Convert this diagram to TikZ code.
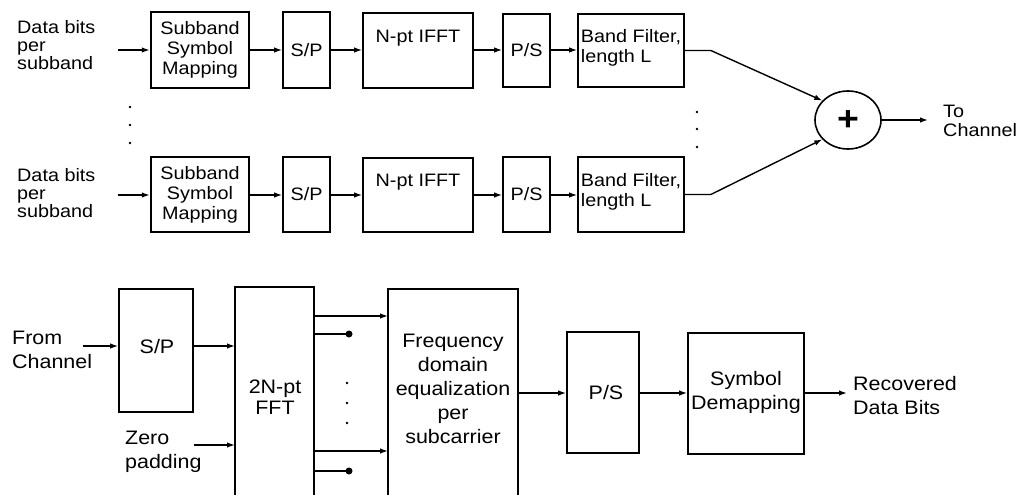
\documentclass[tikz,border=0pt]{standalone}
\usepackage{fontspec}
\setmainfont{Liberation Sans}[FakeStretch=1.1]
\usetikzlibrary{arrows.meta,shapes.geometric,calc}
\begin{document}
\begin{tikzpicture}[x=1pt,y=-1pt,
  box/.style={draw,line width=1.7pt,inner sep=0pt,align=center},
  tfont/.style={font=\fontsize{18}{20}\selectfont},
  bfont/.style={font=\fontsize{19.5}{24}\selectfont},
  lbl/.style={inner sep=0pt,align=left,anchor=west},
  txt/.style={inner sep=0pt,align=center},
  arr/.style={line width=1.4pt,-{Latex[length=8pt,width=5.5pt]}},
  ln/.style={line width=1.4pt},
  dotend/.style={circle,fill,inner sep=0pt,minimum size=7pt}]
\useasboundingbox (0,0) rectangle (1016,495);

% ---------- transmitter, branch 1 ----------
\node[lbl,tfont,font=\fontsize{18}{18}\selectfont] (in1) at (17,45) {Data bits\\per\\subband};
\node[box,tfont,line width=2.4pt,minimum width=98pt,minimum height=76pt] (ssm1) at (200,50) {Subband\\Symbol\\Mapping};
\node[box,tfont,minimum width=47pt,minimum height=76pt] (sp1) at (306.5,50) {S/P};
\node[box,minimum width=110pt,minimum height=75pt] (ifft1) at (418,50.5) {};
\node[txt,tfont] (ifftt1) at (418,38) {N-pt IFFT};
\node[box,tfont,minimum width=47pt,minimum height=73pt] (ps1) at (526.5,50.5) {P/S};
\node[box,minimum width=106pt,minimum height=73pt] (bf1) at (631,50.5) {};
\node[txt,tfont,align=left] (bft1) at (631,48) {Band Filter,\\length L};
\coordinate (a1) at (118,50);
\draw[arr] (a1) -- (ssm1.west |- a1);
\draw[arr] (ssm1.east |- a1) -- (sp1.west |- a1);
\draw[arr] (sp1.east |- a1) -- (ifft1.west |- a1);
\draw[arr] (ifft1.east |- a1) -- (ps1.west |- a1);
\draw[arr] (ps1.east |- a1) -- (bf1.west |- a1);

% ---------- transmitter, branch 2 ----------
\node[lbl,tfont,font=\fontsize{18}{18}\selectfont] (in2) at (17,193) {Data bits\\per\\subband};
\node[box,tfont,line width=2.4pt,minimum width=98pt,minimum height=75pt] (ssm2) at (200,194.5) {Subband\\Symbol\\Mapping};
\node[box,tfont,minimum width=47pt,minimum height=75pt] (sp2) at (306.5,194.5) {S/P};
\node[box,minimum width=110pt,minimum height=74pt] (ifft2) at (418,195) {};
\node[txt,tfont] (ifftt2) at (418,182) {N-pt IFFT};
\node[box,tfont,minimum width=47pt,minimum height=75pt] (ps2) at (526.5,194.5) {P/S};
\node[box,minimum width=106pt,minimum height=75pt] (bf2) at (631,194.5) {};
\node[txt,tfont,align=left] (bft2) at (631,192) {Band Filter,\\length L};
\coordinate (a2) at (118,195);
\draw[arr] (a2) -- (ssm2.west |- a2);
\draw[arr] (ssm2.east |- a2) -- (sp2.west |- a2);
\draw[arr] (sp2.east |- a2) -- (ifft2.west |- a2);
\draw[arr] (ifft2.east |- a2) -- (ps2.west |- a2);
\draw[arr] (ps2.east |- a2) -- (bf2.west |- a2);

% vertical dots
\foreach \yy in {107,125,143} \fill (130,\yy) circle (1.3);
\foreach \yy in {112,129,147} \fill (697,\yy) circle (1.3);

% ---------- summer ----------
\node[draw,ellipse,line width=1.6pt,minimum width=66pt,minimum height=58pt,inner sep=0pt] (sum) at (848,120) {};
\node[txt,font=\fontsize{34}{34}\selectfont\bfseries] (plus) at (848,121) {+};
\draw[arr] (bf1.east) -- ++(26,0) -- (sum.143);
\draw[arr] (bf2.east) -- ++(26,0) -- (sum.217);
\coordinate (toch) at (928,120);
\draw[arr] (sum.east) -- (toch);
\node[lbl,tfont,font=\fontsize{18}{19}\selectfont] (tochl) at (943,121) {To\\Channel};

% ---------- receiver ----------
\node[lbl,bfont] (fromch) at (12,350) {From\\Channel};
\node[box,bfont,minimum width=74pt,minimum height=123pt] (sp3) at (156,350.5) {};
\node[txt,bfont] (sp3t) at (157,347) {S/P};
\node[lbl,bfont] (zero) at (125,452) {Zero\\padding};
\coordinate (fftNW) at (235,287);
\coordinate (fftNE) at (314,287);
\coordinate (fftSW) at (235,495);
\coordinate (fftSE) at (314,495);
\draw[line width=1.7pt] (fftSW) -- (fftNW) -- (fftNE) -- (fftSE);
\node[txt,bfont,font=\fontsize{19.5}{21}\selectfont] (fftt) at (275,397) {2N-pt\\FFT};
\coordinate (eqNW) at (388,289);
\coordinate (eqNE) at (518,289);
\coordinate (eqSW) at (388,495);
\coordinate (eqSE) at (518,495);
\draw[line width=1.7pt] (eqSW) -- (eqNW) -- (eqNE) -- (eqSE);
\node[txt,bfont] (eqt) at (453,389) {Frequency\\domain\\equalization\\per\\subcarrier};
\node[box,minimum width=72pt,minimum height=121pt] (ps3) at (603,392.5) {};
\node[txt,bfont] (ps3t) at (606,393) {P/S};
\node[box,bfont,minimum width=116pt,minimum height=121pt] (dem) at (746,393.5) {};
\node[txt,bfont] (demt) at (746,392) {Symbol\\Demapping};
\node[lbl,bfont] (rec) at (853,396) {Recovered\\Data Bits};

\coordinate (b1) at (83,346);
\draw[arr] (b1) -- (sp3.west |- b1);
\draw[arr] (sp3.east |- b1) -- (fftNW |- b1);
\coordinate (z1) at (194,445);
\draw[arr] (z1) -- (fftNW |- z1);
\draw[arr] (fftNE |- 0,316) -- (eqNW |- 0,316);
\draw[arr] (fftNE |- 0,451) -- (eqNW |- 0,451);
\coordinate (d1) at (349,334);
\coordinate (d2) at (349,471);
\draw[ln] (fftNE |- d1) -- (d1);
\draw[ln] (fftNE |- d2) -- (d2);
\node[dotend] (d1n) at (d1) {};
\node[dotend] (d2n) at (d2) {};
\foreach \yy in {383,403,423} \fill (347,\yy) circle (1.3);
\coordinate (c3) at (0,393);
\draw[arr] (eqNE |- c3) -- (ps3.west |- c3);
\draw[arr] (ps3.east |- c3) -- (dem.west |- c3);
\draw[arr] (dem.east |- c3) -- (847,393);
\end{tikzpicture}
\end{document}
